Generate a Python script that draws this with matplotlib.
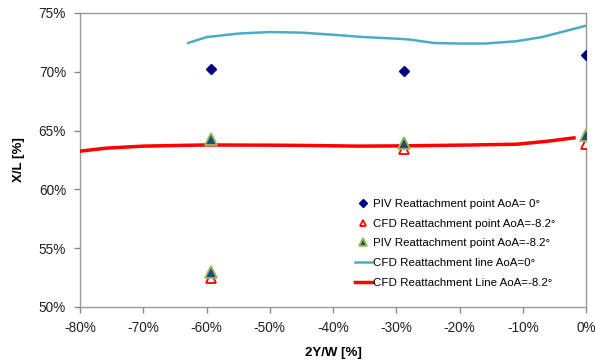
import matplotlib
matplotlib.use("Agg")
import matplotlib.pyplot as plt
from matplotlib.ticker import FuncFormatter

plt.rcParams['font.family'] = ['Liberation Sans', 'DejaVu Sans']

# spanwise stations of the measured points (2Y/W, %)
stations = [-59.3, -28.7, 0.0]

# reattachment points (X/L, %)
piv_aoa0 = [70.2, 70.03, 71.45]
cfd_aoa82 = [52.45, 63.45, 63.85]
cfd_aoa82_x = [-59.3, -28.7, 0.0]
piv_aoa82_x = [-59.3, -59.3, -28.7, 0.0]
piv_aoa82 = [64.3, 52.95, 63.95, 64.65]

# CFD reattachment line, AoA = 0 deg
line0_x = [-62.9, -60, -55, -50, -45, -40, -35, -30, -28, -24, -20, -16, -11, -7, -3, 0]
line0_y = [72.45, 72.95, 73.25, 73.38, 73.33, 73.15, 72.95, 72.82, 72.75, 72.45, 72.4, 72.4, 72.6, 72.95, 73.5, 73.92]

# CFD reattachment line, AoA = -8.2 deg
line82_x = [-80, -76, -70, -60, -50, -45, -36, -29, -19, -11, -6, -1.9]
line82_y = [63.25, 63.5, 63.68, 63.78, 63.76, 63.74, 63.68, 63.7, 63.77, 63.84, 64.1, 64.38]

fig = plt.figure(figsize=(5.95, 3.63), dpi=100)
ax = fig.add_axes([80 / 595, 1 - 307 / 363, 506 / 595, 294 / 363])

ax.plot(stations, piv_aoa0, linestyle='none', marker='D', markersize=5.5,
        color='#000080', label='PIV Reattachment point AoA= 0°', zorder=4)
ax.plot(cfd_aoa82_x, cfd_aoa82, linestyle='none', marker='^', markersize=7,
        markerfacecolor='white', markeredgecolor='#FF0000', markeredgewidth=1.3,
        label='CFD Reattachment point AoA=-8.2°', zorder=4)
ax.plot(piv_aoa82_x, piv_aoa82, linestyle='none', marker='^', markersize=8,
        markerfacecolor='#1F4E79', markeredgecolor='#9BBB59', markeredgewidth=1.3,
        label='PIV Reattachment point AoA=-8.2°', zorder=5)
ax.plot(line0_x, line0_y, color='#4BACC6', linewidth=1.8,
        label='CFD Reattachment line AoA=0°', zorder=3)
ax.plot(line82_x, line82_y, color='#FF0000', linewidth=2.5,
        label='CFD Reattachment Line AoA=-8.2°', zorder=3)

ax.set_xlim(-80, 0)
ax.set_ylim(50, 75)
ax.set_xticks(range(-80, 1, 10))
ax.set_yticks(range(50, 76, 5))
pct = FuncFormatter(lambda v, p: f"{v:.0f}%")
ax.xaxis.set_major_formatter(pct)
ax.yaxis.set_major_formatter(pct)
ax.tick_params(labelsize=9.8, colors='#888888', labelcolor='#222222', length=4, width=1)
ax.tick_params(axis='x', pad=6)
ax.tick_params(axis='y', pad=6)
for s in ax.spines.values():
    s.set_color('#999999')
    s.set_linewidth(1)

ax.set_xlabel('2Y/W [%]', fontweight='bold', fontsize=9.5, labelpad=9)
ax.set_ylabel('X/L [%]', fontweight='bold', fontsize=9.5, labelpad=10)

ax.legend(loc='lower right', bbox_to_anchor=(0.96, 0.03), frameon=False,
          fontsize=8.25, handlelength=1.5, handletextpad=0.1,
          labelspacing=0.85, markerscale=0.7)

fig.savefig('out.png', dpi=100)
